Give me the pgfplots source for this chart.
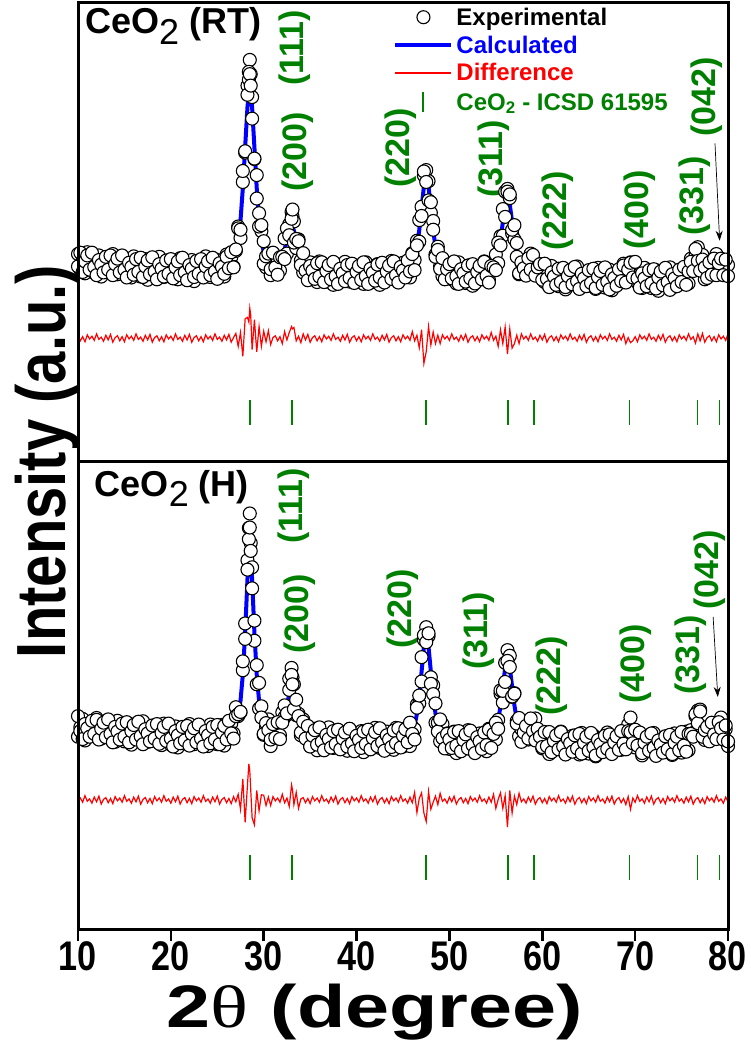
\documentclass[border=0pt]{standalone}
\usepackage{fontspec}
\setmainfont{Liberation Sans}
\newfontfamily\greekserif{Liberation Serif}
\usepackage{pgfplots}
\pgfplotsset{compat=1.18}
\usepackage{pgfplotstable}
\usetikzlibrary{arrows.meta}
\definecolor{hklgreen}{RGB}{0,128,0}
\definecolor{calcblue}{RGB}{0,0,255}
\definecolor{diffred}{RGB}{255,0,0}

% columns: 2theta, calculated, experimental (two scans e, f), difference (offset)
\pgfplotstableread{
x c e f d
10.00 43.5 45.3 42.6 27.5
10.25 43.4 41.9 45.6 26.4
10.50 43.4 44.0 41.4 27.3
10.75 43.3 41.1 43.7 26.2
11.00 43.3 45.7 45.0 27.7
11.25 43.2 42.8 41.9 26.8
11.50 43.1 44.2 45.6 27.4
11.75 43.1 41.2 42.5 26.5
12.00 43.0 43.2 40.7 27.9
12.25 43.0 45.0 44.0 26.7
12.50 42.9 40.4 43.0 27.2
12.75 42.9 43.8 41.3 26.3
13.00 42.8 42.0 44.7 27.6
13.25 42.8 44.3 41.9 26.6
13.50 42.8 41.6 45.0 27.8
13.75 42.7 45.3 40.7 26.1
14.00 42.7 42.4 43.1 27.1
14.25 42.6 40.9 44.3 27.5
14.50 42.6 43.3 41.3 26.4
14.75 42.5 43.8 45.0 27.3
15.00 42.5 44.3 41.9 26.2
15.25 42.5 41.0 40.2 27.7
15.50 42.4 43.0 43.4 26.8
15.75 42.4 40.2 42.5 27.4
16.00 42.4 44.8 40.8 26.5
16.25 42.3 41.9 44.2 27.9
16.50 42.3 43.4 41.4 26.7
16.75 42.3 40.4 44.5 27.2
17.00 42.3 42.5 40.3 26.3
17.25 42.2 44.2 42.6 27.6
17.50 42.2 39.7 43.9 26.6
17.75 42.2 43.1 40.9 27.8
18.00 42.1 41.3 44.6 26.1
18.25 42.1 43.6 41.5 27.1
18.50 42.1 40.9 39.8 27.5
18.75 42.1 44.7 43.1 26.4
19.00 42.0 41.7 42.1 27.3
19.25 42.0 40.3 40.4 26.2
19.50 42.0 42.7 43.9 27.7
19.75 41.9 43.2 41.0 26.8
20.00 42.0 43.8 44.2 27.4
20.25 42.0 40.5 40.0 26.5
20.50 42.0 42.6 42.4 27.9
20.75 42.0 39.8 43.7 26.7
21.00 42.0 44.4 40.7 27.2
21.25 42.0 41.6 44.5 26.3
21.50 41.9 43.0 41.3 27.6
21.75 41.9 40.0 39.6 26.6
22.00 41.9 42.1 42.9 27.8
22.25 42.0 44.0 42.1 26.1
22.50 41.9 39.4 40.3 27.1
22.75 41.9 42.8 43.8 27.5
23.00 41.9 41.1 41.0 26.4
23.25 42.0 43.5 44.2 27.3
23.50 42.2 41.0 40.2 26.2
23.75 42.2 44.8 42.6 27.7
24.00 42.0 41.7 43.7 26.8
24.25 42.0 40.3 40.7 27.4
24.50 42.0 42.7 44.5 26.5
24.75 42.1 43.4 41.5 27.9
25.00 42.2 44.0 39.9 26.7
25.25 42.3 40.8 43.3 27.2
25.50 42.4 43.0 42.5 26.3
25.75 42.6 40.4 41.0 27.6
26.00 42.8 45.2 44.7 26.6
26.25 43.1 42.7 42.2 27.8
26.50 43.5 44.6 45.7 26.1
26.75 44.4 42.5 42.4 27.1
27.00 45.7 46.0 46.3 28.0
27.25 48.3 51.3 50.9 25.2
27.50 52.6 48.8 50.6 28.2
27.75 59.6 61.0 63.4 23.0
28.00 68.6 67.4 67.7 31.2
28.25 77.3 82.0 80.0 31.5
28.40 80.6 83.3 85.0 30.5
28.50 81.3 87.6 84.5 33.5
28.60 80.6 84.5 82.0 32.0
28.75 77.3 79.5 74.8 24.5
29.00 68.5 66.0 66.1 31.0
29.25 59.6 57.4 62.5 24.0
29.50 52.7 54.2 51.3 29.5
29.75 48.3 50.3 51.6 25.2
30.00 45.8 48.1 43.2 28.5
30.25 44.4 42.4 44.8 26.2
30.50 43.7 44.5 45.4 28.6
30.75 43.3 40.7 42.0 25.6
31.00 43.1 45.5 45.6 27.1
31.25 43.0 42.6 42.4 27.5
31.50 43.1 44.2 40.8 26.4
31.75 43.6 41.7 44.6 27.3
32.00 44.6 44.8 44.7 25.8
32.25 46.3 48.7 44.2 28.4
32.50 48.4 45.4 50.9 26.6
32.75 50.6 51.8 49.4 28.2
33.00 51.5 54.5 53.0 29.5
33.10 51.2 53.5 55.0 29.0
33.25 50.4 52.4 47.8 29.3
33.50 48.2 46.6 48.6 26.4
33.75 45.9 48.5 48.1 27.4
34.00 44.2 43.9 42.9 26.0
34.25 43.0 41.3 45.5 27.9
34.50 42.3 43.0 41.7 26.6
34.75 41.9 43.2 39.6 27.8
35.00 41.7 43.5 42.7 26.1
35.25 41.6 40.1 41.7 27.1
35.50 41.5 42.1 39.9 27.5
35.75 41.4 39.2 43.3 26.4
36.00 41.3 43.7 40.4 27.3
36.25 41.3 40.9 43.5 26.2
36.50 41.2 42.3 39.2 27.7
36.75 41.2 39.3 41.6 26.8
37.00 41.2 41.4 42.9 27.4
37.25 41.1 43.1 39.8 26.5
37.50 41.1 38.6 43.6 27.9
37.75 41.1 42.0 40.5 26.7
38.00 41.1 40.3 38.8 27.2
38.25 41.1 42.6 42.1 26.3
38.50 41.0 39.8 41.1 27.6
38.75 41.0 43.6 39.4 26.6
39.00 41.0 40.7 42.9 27.8
39.25 41.0 39.3 40.1 26.1
39.50 41.0 41.7 43.2 27.1
39.75 41.0 42.3 39.0 27.5
40.00 41.0 42.8 41.4 26.4
40.25 41.0 39.5 42.7 27.3
40.50 41.0 41.6 39.7 26.2
40.75 41.0 38.8 43.5 27.7
41.00 41.1 43.5 40.5 26.8
41.25 41.1 40.7 38.8 27.4
41.50 41.1 42.2 42.1 26.5
41.75 41.1 39.2 41.2 27.9
42.00 41.1 41.3 39.5 26.7
42.25 41.1 43.1 43.0 27.2
42.50 41.1 38.6 40.2 26.3
42.75 41.2 42.1 43.4 27.6
43.00 41.1 40.3 39.1 26.6
43.25 41.1 42.6 41.5 27.8
43.50 41.1 39.9 42.8 26.1
43.75 41.2 43.8 39.9 27.1
44.00 41.2 40.9 43.7 27.5
44.25 41.3 39.6 40.7 26.4
44.50 41.4 42.1 39.1 27.3
44.75 41.5 42.8 42.5 26.2
45.00 41.6 43.4 41.7 27.7
45.25 41.8 40.3 40.2 26.8
45.50 42.0 42.6 43.9 27.4
45.75 42.4 40.2 41.5 26.5
46.00 43.1 45.5 45.3 28.4
46.25 44.4 44.0 41.8 26.4
46.50 46.8 48.2 47.2 27.6
46.75 50.5 48.0 52.7 24.9
47.00 55.3 55.6 53.6 28.8
47.25 60.0 62.4 63.3 21.5
47.50 62.1 63.6 61.0 24.0
47.75 60.0 61.2 57.0 29.5
48.00 55.3 54.3 56.6 25.5
48.25 50.5 52.5 50.6 28.3
48.50 46.8 45.2 44.7 25.8
48.75 44.3 46.9 46.2 27.6
49.00 43.0 42.7 42.1 25.8
49.25 42.2 40.5 44.4 27.7
49.50 41.8 42.5 39.8 26.8
49.75 41.6 42.9 42.0 27.4
50.00 41.4 43.2 43.1 26.5
50.25 41.3 39.8 40.0 27.9
50.50 41.2 41.8 43.7 26.7
50.75 41.1 38.9 40.5 27.2
51.00 41.1 43.5 38.8 26.3
51.25 41.0 40.6 42.0 27.6
51.50 41.0 42.1 41.1 26.6
51.75 40.9 39.0 39.3 27.8
52.00 40.9 41.1 42.8 26.1
52.25 40.9 42.9 40.0 27.1
52.50 40.9 38.4 43.1 27.5
52.75 40.9 41.8 38.9 26.4
53.00 41.0 40.2 41.4 27.3
53.25 41.0 42.5 42.7 26.2
53.50 41.1 39.9 39.8 27.7
53.75 41.1 43.7 43.6 26.8
54.00 41.2 40.9 40.6 27.4
54.25 41.4 39.7 39.1 26.5
54.50 41.7 42.4 42.7 28.2
54.75 42.3 43.6 42.4 26.5
55.00 43.4 45.2 41.8 27.4
55.25 45.3 43.3 47.8 25.2
55.50 48.4 49.2 47.2 28.8
55.75 52.2 49.3 55.1 25.8
56.00 56.0 58.9 53.4 29.4
56.25 57.8 59.5 58.9 23.5
56.50 56.1 57.5 58.3 29.0
56.75 52.3 49.8 50.6 24.8
57.00 48.3 48.5 51.6 25.8
57.25 45.3 47.7 44.7 27.6
57.50 43.4 40.9 41.1 25.8
57.75 42.5 43.4 43.5 27.9
58.00 42.1 41.3 42.2 26.8
58.25 42.2 43.7 40.6 27.4
58.50 42.5 41.3 44.4 26.5
58.75 42.8 45.4 41.9 27.9
59.00 42.9 42.6 45.1 26.7
59.25 42.6 40.9 40.6 27.2
59.50 42.0 42.7 42.4 26.3
59.75 41.4 42.7 43.1 27.6
60.00 41.0 42.8 39.7 26.6
60.25 40.7 39.2 43.2 27.8
60.50 40.5 41.1 39.9 26.1
60.75 40.4 38.2 38.1 27.1
61.00 40.3 42.7 41.3 27.5
61.25 40.3 39.9 40.4 26.4
61.50 40.2 41.3 38.6 27.3
61.75 40.2 38.3 42.1 26.2
62.00 40.1 40.3 39.2 27.7
62.25 40.1 42.1 42.3 26.8
62.50 40.1 37.6 38.1 27.4
62.75 40.1 41.0 40.5 26.5
63.00 40.1 39.3 41.8 27.9
63.25 40.0 41.5 38.7 26.7
63.50 40.0 38.8 42.5 27.2
63.75 40.0 42.6 39.4 26.3
64.00 40.0 39.7 37.7 27.6
64.25 40.0 38.3 41.0 26.6
64.50 39.9 40.6 40.0 27.8
64.75 39.9 41.2 38.3 26.1
65.00 39.9 41.7 41.8 27.1
65.25 39.9 38.4 39.0 27.5
65.50 39.9 40.5 42.1 26.4
65.75 39.9 37.7 37.9 27.3
66.00 39.9 42.3 40.3 26.2
66.25 39.9 39.5 41.6 27.7
66.50 39.9 41.0 38.6 26.8
66.75 39.9 38.0 42.4 27.4
67.00 39.9 40.1 39.3 26.5
67.25 39.9 41.9 37.6 27.9
67.50 39.9 37.4 40.9 26.7
67.75 40.0 40.9 40.1 27.2
68.00 40.0 39.2 38.4 26.3
68.25 40.1 41.6 42.0 27.6
68.50 40.3 39.1 39.4 26.6
68.75 40.6 43.2 42.8 27.8
69.00 41.1 40.8 39.1 25.8
69.25 41.5 39.8 41.9 27.1
69.50 41.7 43.5 43.4 26.0
69.75 41.5 42.8 40.2 26.4
70.00 41.1 42.9 43.6 27.3
70.25 40.6 39.1 40.0 26.2
70.50 40.3 40.9 38.0 27.7
70.75 40.1 37.9 41.1 26.8
71.00 39.9 42.3 40.0 27.4
71.25 39.9 39.5 38.3 26.5
71.50 39.9 41.0 41.8 27.9
71.75 39.8 37.9 38.9 26.7
72.00 39.8 40.0 42.0 27.2
72.25 39.8 41.8 37.8 26.3
72.50 39.8 37.3 40.2 27.6
72.75 39.8 40.7 41.5 26.6
73.00 39.8 39.0 38.5 27.8
73.25 39.8 41.3 42.3 26.1
73.50 39.8 38.6 39.2 27.1
73.75 39.8 42.4 37.5 27.5
74.00 39.9 39.6 40.9 26.4
74.25 39.9 38.2 40.0 27.3
74.50 39.9 40.6 38.3 26.2
74.75 40.0 41.3 41.9 27.7
75.00 40.1 41.9 39.2 26.8
75.25 40.3 38.8 42.5 27.4
75.50 40.6 41.2 38.6 26.5
75.75 41.1 38.9 41.5 27.9
76.00 41.9 44.3 43.6 26.7
76.25 42.9 42.5 41.6 27.3
76.50 43.9 45.0 46.4 25.9
76.75 44.4 46.8 43.8 27.9
77.00 44.0 44.2 41.7 26.4
77.25 43.1 45.1 44.1 28.0
77.50 42.3 39.8 42.4 26.1
77.75 41.7 42.6 40.1 27.1
78.00 41.6 40.8 43.5 27.5
78.25 41.7 43.2 40.8 26.4
78.50 42.1 40.9 44.3 27.3
78.75 42.7 45.3 40.7 26.2
79.00 42.9 42.6 43.3 27.7
79.25 42.6 40.9 44.3 26.8
79.50 42.0 42.7 40.7 27.4
79.75 41.6 42.9 44.1 26.5
80.00 41.1 42.9 40.5 27.9
}\rtdata

\pgfplotstableread{
x c e f d
10.00 43.2 41.3 45.7 27.6
10.25 43.1 43.3 42.5 28.2
10.50 43.1 45.1 40.8 27.3
10.75 43.0 40.5 44.0 28.7
11.00 43.0 43.9 43.1 27.5
11.25 42.9 42.1 41.3 28.0
11.50 42.8 44.3 44.7 27.1
11.75 42.8 41.6 41.9 28.4
12.00 42.7 45.3 44.9 27.4
12.25 42.7 42.4 40.7 28.6
12.50 42.6 40.9 43.0 26.9
12.75 42.6 43.3 44.3 27.9
13.00 42.5 43.8 41.2 28.3
13.25 42.5 44.3 45.0 27.2
13.50 42.5 41.0 41.9 28.1
13.75 42.4 43.0 40.1 27.0
14.00 42.4 40.2 43.4 28.5
14.25 42.3 44.7 42.4 27.6
14.50 42.3 41.9 40.7 28.2
14.75 42.2 43.3 44.1 27.3
15.00 42.2 40.3 41.3 28.7
15.25 42.2 42.4 44.4 27.5
15.50 42.1 44.1 40.1 28.0
15.75 42.1 39.6 42.5 27.1
16.00 42.1 43.0 43.8 28.4
16.25 42.0 41.2 40.7 27.4
16.50 42.0 43.5 44.5 28.6
16.75 42.0 40.8 41.4 26.9
17.00 42.0 44.6 39.7 27.9
17.25 41.9 41.6 42.9 28.3
17.50 41.9 40.2 42.0 27.2
17.75 41.9 42.6 40.3 28.1
18.00 41.8 43.1 43.7 27.0
18.25 41.8 43.6 40.9 28.5
18.50 41.8 40.3 44.0 27.6
18.75 41.8 42.4 39.8 28.2
19.00 41.7 39.5 42.1 27.3
19.25 41.7 44.1 43.4 28.7
19.50 41.7 41.3 40.4 27.5
19.75 41.6 42.7 44.1 28.0
20.00 41.5 39.6 40.9 27.1
20.25 41.5 41.7 39.2 28.4
20.50 41.5 43.5 42.5 27.4
20.75 41.5 39.0 41.6 28.6
21.00 41.5 42.4 39.9 26.9
21.25 41.5 40.7 43.4 27.9
21.50 41.4 42.9 40.5 28.3
21.75 41.4 40.2 43.6 27.2
22.00 41.4 44.0 39.4 28.1
22.25 41.5 41.2 41.9 27.0
22.50 41.4 39.7 43.1 28.5
22.75 41.4 42.1 40.1 27.6
23.00 41.4 42.7 43.9 28.2
23.25 41.5 43.3 40.9 27.3
23.50 41.5 40.0 39.2 28.7
23.75 41.5 42.1 42.5 27.5
24.00 41.5 39.3 41.6 28.0
24.25 41.5 43.9 39.9 27.1
24.50 41.5 41.1 43.4 28.4
24.75 41.6 42.7 40.7 27.4
25.00 41.6 39.7 43.8 28.6
25.25 41.7 41.9 39.7 26.9
25.50 41.8 43.8 42.2 27.9
25.75 41.9 39.4 43.6 28.3
26.00 42.0 42.9 40.7 27.2
26.25 42.2 41.4 44.7 28.1
26.50 42.6 44.1 42.0 27.0
26.75 43.2 42.0 40.9 28.5
27.00 44.2 47.6 45.7 27.4
27.25 46.0 45.7 46.1 29.0
27.50 49.0 46.5 46.6 25.8
27.75 54.5 55.5 57.4 32.3
28.00 63.5 65.5 62.2 23.0
28.25 75.0 79.0 77.0 31.0
28.40 79.8 85.9 83.5 35.5
28.50 81.2 89.0 86.0 34.0
28.60 79.8 82.7 81.0 30.0
28.75 75.0 77.5 73.0 24.0
29.00 63.5 61.8 66.1 22.5
29.25 54.5 56.6 52.5 29.8
29.50 49.0 47.3 52.8 25.5
29.75 46.0 47.8 45.4 28.9
30.00 44.2 41.7 41.9 28.8
30.25 43.2 43.4 44.2 26.6
30.50 42.6 45.0 42.7 28.4
30.75 42.3 39.3 40.7 26.6
31.00 42.1 43.0 44.0 28.5
31.25 42.0 41.2 41.1 27.6
31.50 42.2 43.7 44.4 28.2
31.75 42.8 41.6 40.8 27.3
32.00 43.9 46.5 44.3 29.0
32.25 45.8 45.5 48.0 27.2
32.50 48.0 46.0 46.3 28.2
32.75 50.4 51.3 53.7 26.4
33.00 51.5 56.0 54.5 31.0
33.10 51.2 54.0 52.5 30.0
33.25 50.2 52.5 47.2 26.8
33.50 47.9 45.9 49.2 29.4
33.75 45.6 46.2 45.7 26.0
34.00 43.8 41.6 42.2 28.0
34.25 42.6 45.0 44.5 28.3
34.50 41.8 41.4 40.9 27.2
34.75 41.4 42.5 43.6 28.1
35.00 41.2 39.3 39.2 27.0
35.25 41.1 41.3 41.5 28.5
35.50 41.0 43.0 42.7 27.6
35.75 40.9 38.4 39.6 28.2
36.00 40.8 41.7 43.3 27.3
36.25 40.8 40.0 40.2 28.7
36.50 40.7 42.2 38.4 27.5
36.75 40.7 39.5 41.7 28.0
37.00 40.7 43.3 40.8 27.1
37.25 40.6 40.3 39.0 28.4
37.50 40.6 38.9 42.5 27.4
37.75 40.6 41.3 39.7 28.6
38.00 40.6 41.9 42.8 26.9
38.25 40.6 42.4 38.6 27.9
38.50 40.5 39.0 40.9 28.3
38.75 40.5 41.1 42.2 27.2
39.00 40.5 38.3 39.2 28.1
39.25 40.5 42.9 43.0 27.0
39.50 40.5 40.1 39.9 28.5
39.75 40.5 41.6 38.2 27.6
40.00 40.5 38.6 41.5 28.2
40.25 40.5 40.7 40.6 27.3
40.50 40.5 42.5 38.9 28.7
40.75 40.5 38.0 42.4 27.5
41.00 40.6 41.5 39.7 28.0
41.25 40.6 39.8 42.8 27.1
41.50 40.6 42.1 38.6 28.4
41.75 40.6 39.4 41.0 27.4
42.00 40.6 43.2 42.3 28.6
42.25 40.6 40.3 39.3 26.9
42.50 40.6 38.9 43.1 27.9
42.75 40.7 41.4 40.1 28.3
43.00 40.6 41.9 38.3 27.2
43.25 40.6 42.4 41.6 28.1
43.50 40.6 39.1 40.7 27.0
43.75 40.7 41.3 39.1 28.5
44.00 40.7 38.5 42.6 27.6
44.25 40.8 43.2 39.9 28.2
44.50 40.9 40.5 43.1 27.3
44.75 41.0 42.1 39.0 28.7
45.00 41.1 39.2 41.5 27.5
45.25 41.2 41.4 42.9 28.0
45.50 41.4 43.4 40.1 27.1
45.75 41.8 39.3 44.3 28.4
46.00 42.5 43.4 41.9 27.2
46.25 43.7 42.9 40.7 29.4
46.50 46.2 48.2 47.5 25.1
46.75 50.0 48.4 50.1 28.1
47.00 55.2 58.3 53.1 29.3
47.25 60.5 62.0 63.0 25.0
47.50 62.9 64.7 61.5 23.2
47.75 60.5 62.8 63.4 29.6
48.00 55.2 54.0 52.6 25.8
48.25 50.0 52.3 50.4 27.3
48.50 46.2 44.3 48.4 28.6
48.75 43.7 44.3 42.4 26.8
49.00 42.5 40.3 45.0 29.2
49.25 41.6 44.0 41.0 27.5
49.50 41.1 40.7 38.8 28.0
49.75 40.9 42.0 41.9 27.1
50.00 40.6 38.7 40.7 28.4
50.25 40.5 40.7 38.9 27.4
50.50 40.4 42.4 42.3 28.6
50.75 40.3 37.8 39.4 26.9
51.00 40.3 41.2 42.5 27.9
51.25 40.2 39.4 38.2 28.3
51.50 40.2 41.7 40.6 27.2
51.75 40.1 38.9 41.8 28.1
52.00 40.1 42.7 38.8 27.0
52.25 40.1 39.8 42.6 28.5
52.50 40.1 38.4 39.5 27.6
52.75 40.1 40.8 37.8 28.2
53.00 40.2 41.5 41.2 27.3
53.25 40.2 42.0 40.3 28.7
53.50 40.3 38.8 38.7 27.5
53.75 40.3 40.9 42.2 28.0
54.00 40.4 38.2 39.5 27.1
54.25 40.6 43.0 42.8 28.4
54.50 40.9 40.5 38.9 27.3
54.75 41.5 42.6 41.9 29.0
55.00 42.6 40.7 44.3 26.0
55.25 44.7 44.9 43.0 27.9
55.50 47.9 50.5 51.2 29.3
55.75 51.9 48.6 51.1 26.0
56.00 56.0 57.1 53.0 28.7
56.25 58.3 59.8 57.5 22.0
56.50 56.1 58.6 56.2 29.8
56.75 52.0 49.8 49.9 25.0
57.00 48.0 50.6 50.5 28.6
57.25 45.0 44.7 44.1 26.8
57.50 43.1 41.4 45.3 29.2
57.75 42.2 42.9 40.2 27.4
58.00 41.8 43.1 42.2 28.0
58.25 41.9 43.7 43.6 27.1
58.50 42.2 40.7 40.9 28.4
58.75 42.7 43.3 45.2 27.4
59.00 43.1 40.9 42.5 28.6
59.25 42.8 45.2 40.5 26.9
59.50 42.0 41.6 43.0 27.9
59.75 41.2 42.3 41.3 28.3
60.00 40.7 38.8 39.1 27.2
60.25 40.4 40.6 42.3 28.1
60.50 40.2 42.2 39.3 27.0
60.75 40.1 37.6 42.3 28.5
61.00 40.0 40.9 38.0 27.6
61.25 40.0 39.2 40.4 28.2
61.50 39.9 41.4 41.6 27.3
61.75 39.9 38.7 38.6 28.7
62.00 39.8 42.4 42.3 27.5
62.25 39.8 39.5 39.2 28.0
62.50 39.8 38.1 37.5 27.1
62.75 39.8 40.5 40.8 28.4
63.00 39.8 41.1 39.9 27.4
63.25 39.7 41.5 38.1 28.6
63.50 39.7 38.2 41.6 26.9
63.75 39.7 40.3 38.8 27.9
64.00 39.7 37.5 41.9 28.3
64.25 39.7 42.1 37.7 27.2
64.50 39.6 39.2 40.0 28.1
64.75 39.6 40.7 41.3 27.0
65.00 39.6 37.7 38.3 28.5
65.25 39.6 39.8 42.1 27.6
65.50 39.6 41.6 39.0 28.2
65.75 39.6 37.1 37.3 27.3
66.00 39.6 40.5 40.6 28.7
66.25 39.6 38.8 39.7 27.5
66.50 39.6 41.1 38.0 28.0
66.75 39.6 38.4 41.5 27.1
67.00 39.6 42.2 38.7 28.4
67.25 39.6 39.3 41.8 27.4
67.50 39.6 37.9 37.6 28.6
67.75 39.7 40.4 40.1 26.9
68.00 39.7 41.0 41.4 27.9
68.25 39.8 41.6 38.5 28.3
68.50 40.0 38.5 42.5 27.2
68.75 40.4 41.0 39.8 28.1
69.00 40.9 38.7 38.6 26.8
69.25 41.5 43.9 42.5 28.5
69.50 42.2 45.4 42.3 25.8
69.75 41.5 42.6 39.9 28.2
70.00 40.9 39.0 42.8 27.3
70.25 40.3 40.5 39.4 28.7
70.50 40.0 42.0 42.2 27.5
70.75 39.8 37.3 37.8 28.0
71.00 39.6 40.5 40.0 27.1
71.25 39.6 38.8 41.3 28.4
71.50 39.6 41.1 38.3 27.4
71.75 39.5 38.3 42.0 28.6
72.00 39.5 42.1 38.9 26.9
72.25 39.5 39.2 37.2 27.9
72.50 39.5 37.8 40.5 28.3
72.75 39.5 40.2 39.6 27.2
73.00 39.5 40.8 37.9 28.1
73.25 39.5 41.3 41.4 27.0
73.50 39.5 38.0 38.6 28.5
73.75 39.5 40.1 41.7 27.6
74.00 39.6 37.4 37.6 28.2
74.25 39.6 42.0 40.0 27.3
74.50 39.6 39.2 41.3 28.7
74.75 39.7 40.8 38.4 27.5
75.00 39.8 37.9 42.3 28.0
75.25 40.0 40.2 39.4 27.1
75.50 40.4 42.4 38.1 28.4
75.75 40.9 38.4 41.9 27.4
76.00 41.8 42.7 41.9 28.6
76.25 42.9 42.1 41.3 26.9
76.50 44.2 45.7 46.1 27.9
76.75 45.1 46.9 44.2 28.3
77.00 44.5 47.1 46.7 27.2
77.25 43.3 43.0 41.3 28.1
77.50 42.3 40.6 42.7 27.0
77.75 41.7 42.4 43.4 28.5
78.00 41.6 42.9 40.3 27.6
78.25 41.8 43.6 44.3 28.2
78.50 42.4 40.9 41.8 27.3
78.75 43.1 43.7 40.8 28.7
79.00 43.4 41.2 44.4 27.5
79.25 43.0 45.4 43.1 28.0
79.50 42.3 41.9 40.7 27.1
79.75 41.8 42.9 43.7 28.4
80.00 41.2 39.3 40.3 27.4
}\hdata

\pgfplotsset{
  xrdpanel/.style={
    scale only axis, width=650pt,
    xmin=10, xmax=80, ymin=0, ymax=100,
    ytick=\empty,
    major tick style={line width=2.5pt, black},
  },
  expstyle/.style={only marks, mark=*, mark size=6.5pt,
    mark options={draw=black, fill=white, line width=1.1pt}},
  calcstyle/.style={no marks, calcblue, line width=4pt},
  diffstyle/.style={no marks, diffred, line width=1.2pt},
  reftick/.style={only marks, mark=|, hklgreen, mark size=12.5pt,
    mark options={line width=1.7pt}},
  legmark/.style={legend image code/.code={\draw[mark repeat=2,mark phase=2,##1]
    plot coordinates {(0pt,0pt) (28pt,0pt) (56pt,0pt)};}},
  legline/.style={legend image code/.code={\draw[##1] (0pt,0pt) -- (56pt,0pt);}},
  legtick/.style={legend image code/.code={\draw[draw=hklgreen, line width=2pt]
    (28pt,-10pt) -- (28pt,10pt);}},
}
\tikzset{
  hkl/.style={rotate=90, inner sep=0pt, text=hklgreen,
    font=\fontsize{34}{34}\selectfont\bfseries},
  panel/.style={anchor=west, inner sep=0pt,
    font=\fontsize{36}{36}\selectfont\bfseries},
}

\begin{document}
\begin{tikzpicture}
\useasboundingbox (0,0) rectangle (750pt,1043pt);

% ---- top panel: CeO2 (RT)
\begin{axis}[xrdpanel, name=toppanel, height=459pt,
  at={(78pt,581pt)}, anchor=south west,
  xtick=\empty,
  legend style={at={(0.485,0.990)}, anchor=north west, draw=none, fill=none,
    inner sep=0pt, row sep=9pt,
    font=\fontsize{24}{26}\selectfont\bfseries,
    nodes={inner xsep=3pt, inner ysep=0pt}},
  legend cell align=left,
]
\addplot[expstyle, legmark] table[x=x, y=e] {\rtdata};
\addlegendentry{Experimental}
\addplot[expstyle, forget plot] table[x=x, y=f] {\rtdata};
\addplot[calcstyle, legline] table[x=x, y=c] {\rtdata};
\addlegendentry{\textcolor{calcblue}{Calculated}}
\addplot[diffstyle, legline] table[x=x, y=d] {\rtdata};
\addlegendentry{\textcolor{diffred}{Difference}}
\addplot[reftick, legtick]
  coordinates {(28.55,10.8) (33.08,10.8) (47.48,10.8) (56.34,10.8)
               (59.09,10.8) (69.40,10.8) (76.70,10.8) (79.07,10.8)};
\addlegendentry{\textcolor{hklgreen}{CeO\textsubscript{2} - ICSD 61595}}

\node[panel] at (axis cs:10.75,95.0) {CeO\raisebox{-0.28em}{\mdseries 2} (RT)};
\node[hkl] at (axis cs:33.3,90.2) {(111)};
\node[hkl] at (axis cs:33.7,67.5) {(200)};
\node[hkl] at (axis cs:44.8,68.4) {(220)};
\node[hkl] at (axis cs:54.8,66.0) {(311)};
\node[hkl] at (axis cs:61.7,54.7) {(222)};
\node[hkl] at (axis cs:70.5,54.9) {(400)};
\node[hkl] at (axis cs:76.4,58.0) {(331)};
\node[hkl] at (axis cs:77.7,79.5) {(042)};
\draw[-{Stealth[length=10pt,width=7pt]}, line width=0.7pt]
  (axis cs:78.6,69.4) -- (axis cs:79.1,48.2);
\end{axis}

% ---- bottom panel: CeO2 (H)
\begin{axis}[xrdpanel, name=botpanel, height=468pt,
  at={(78pt,113pt)}, anchor=south west,
  xtick={10,20,...,80}, xtick pos=bottom, xtick align=outside,
  major tick length=11pt,
  /pgf/number format/assume math mode=true,
  xticklabel={\scalebox{0.95}[1.15]{\pgfmathprintnumber{\tick}}},
  xticklabel style={font=\fontsize{36}{36}\selectfont\bfseries,
    inner sep=0pt, yshift=0pt},
  xlabel={\scalebox{1.32}[1]{2{\greekserif\mdseries θ} (degree)}},
  ylabel={\scalebox{1}[1.2]{Intensity (a.u.)}},
  every axis x label/.style={at={(axis description cs:0.457,-0.2094)},
    anchor=base, font=\fontsize{60}{60}\selectfont\bfseries},
  every axis y label/.style={at={(axis description cs:-0.0185,1.001)},
    rotate=90, anchor=base, font=\fontsize{58}{58}\selectfont\bfseries},
]
\addplot[expstyle] table[x=x, y=e] {\hdata};
\addplot[expstyle] table[x=x, y=f] {\hdata};
\addplot[calcstyle] table[x=x, y=c] {\hdata};
\addplot[diffstyle] table[x=x, y=d] {\hdata};
\addplot[reftick]
  coordinates {(28.55,13.4) (33.08,13.4) (47.48,13.4) (56.34,13.4)
               (59.09,13.4) (69.40,13.4) (76.70,13.4) (79.07,13.4)};

\node[panel] at (axis cs:11.8,94.4) {CeO\raisebox{-0.28em}{\mdseries 2} (H)};
\node[hkl] at (axis cs:33.2,90.6) {(111)};
\node[hkl] at (axis cs:33.9,67.5) {(200)};
\node[hkl] at (axis cs:45.0,68.6) {(220)};
\node[hkl] at (axis cs:53.1,63.9) {(311)};
\node[hkl] at (axis cs:61.0,54.3) {(222)};
\node[hkl] at (axis cs:70.1,56.8) {(400)};
\node[hkl] at (axis cs:76.0,58.8) {(331)};
\node[hkl] at (axis cs:78.0,76.9) {(042)};
\draw[-{Stealth[length=10pt,width=7pt]}, line width=0.7pt]
  (axis cs:78.4,66.9) -- (axis cs:78.9,49.8);
\end{axis}

% heavy frames of both panels
\draw[line width=3pt] (toppanel.south west) rectangle (toppanel.north east);
\draw[line width=3pt] (botpanel.south west) rectangle (botpanel.north east);
\end{tikzpicture}
\end{document}
